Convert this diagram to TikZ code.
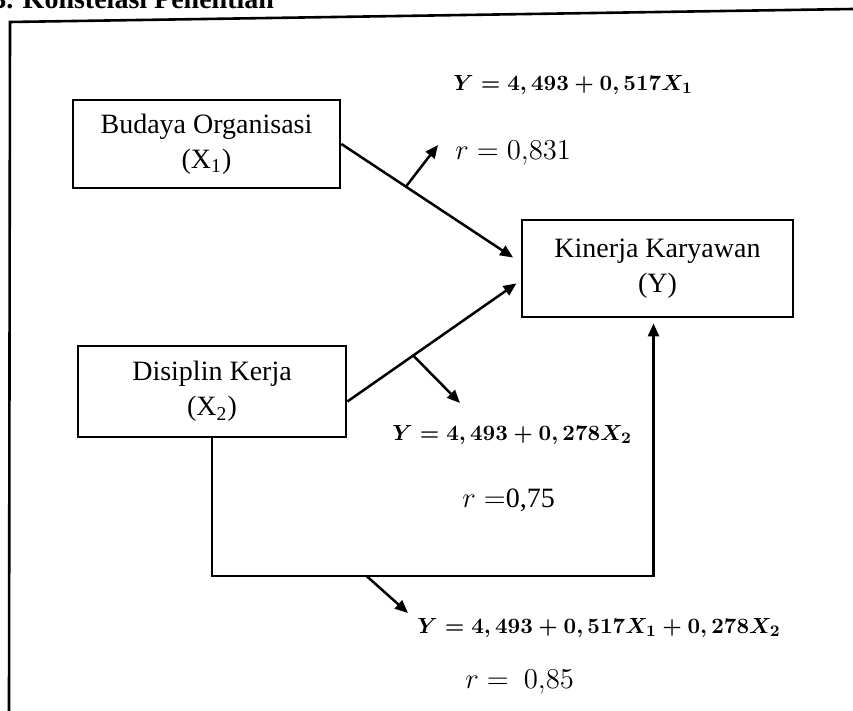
\documentclass[tikz,border=0pt]{standalone}
\usepackage{amsmath}
\usepackage{fontspec}
\setmainfont{Liberation Serif}
\usetikzlibrary{arrows.meta}
\tikzset{
  kbox/.style={draw, line width=1.4pt, align=center, font=\fontsize{14}{17.5}\selectfont, inner sep=2pt},
  karr/.style={-{Triangle[length=6.5pt,width=5.5pt]}, line width=1.25pt},
  keq/.style={anchor=west, inner sep=0pt, font=\fontsize{11}{13}\selectfont\boldmath},
  kr/.style={anchor=west, inner sep=0pt, font=\fontsize{14}{17}\selectfont}
}

\begin{document}
\begin{tikzpicture}[x=0.5pt, y=-0.5pt]
  \useasboundingbox (0,0) rectangle (853,711);
  % heading (cut off by the page)
  \node[anchor=base west, inner sep=0pt, font=\fontsize{14}{17}\selectfont\bfseries] (title) at (-8,8.5) {3. Konstelasi Penelitian};
  \draw[line width=1.3pt] (9,711) -- (10,22) -- (853,9);
  % variables
  \node[kbox, minimum width=133.5pt, minimum height=44pt] (bud) at (206.5,144) {Budaya Organisasi\\(X\textsubscript{1})};
  \node[kbox, minimum width=135.5pt, minimum height=48.5pt] (kin) at (657.5,268.5) {Kinerja Karyawan\\(Y)};
  \node[kbox, minimum width=134pt, minimum height=45.5pt] (dis) at (212,391.5) {Disiplin Kerja\\(X\textsubscript{2})};
  % paths
  \draw[karr, shorten >=4.5pt] (bud.east) -- coordinate[pos=0.36] (b1) ([yshift=3pt]kin.west);
  \coordinate (t1) at (438,145);
  \draw[karr] (b1) -- (t1);
  \draw[karr, shorten >=2.5pt] ([yshift=-5pt]dis.east) -- coordinate[pos=0.38] (b2) ([yshift=-6pt]kin.west);
  \coordinate (t2) at (460,403);
  \draw[karr] (b2) -- (t2);
  \coordinate (low) at (212,576);
  \coordinate (kb) at ([xshift=-2pt]kin.south);
  \draw[karr, shorten >=2.5pt] (dis.south) -- (dis.south |- low) -- coordinate[pos=0.35] (b3) (kb |- low) -- (kb);
  \coordinate (t3) at (408,613);
  \draw[karr] (b3) -- (t3);
  % regression results
  \node[keq] (eq1) at (453,85) {$Y = 4,493 + 0,517X_1$};
  \node[kr] (r1) at (455,153) {$r = 0{,}831$};
  \node[keq] (eq2) at (392,435) {$Y = 4,493 + 0,278X_2$};
  \node[kr] (r2) at (462,500) {$r =$0,75};
  \node[keq] (eq3) at (417,628) {$Y = 4,493 + 0,517X_1 + 0,278X_2$};
  \node[kr] (r3) at (465,682) {$r = \ 0{,}85$};
\end{tikzpicture}
\end{document}
